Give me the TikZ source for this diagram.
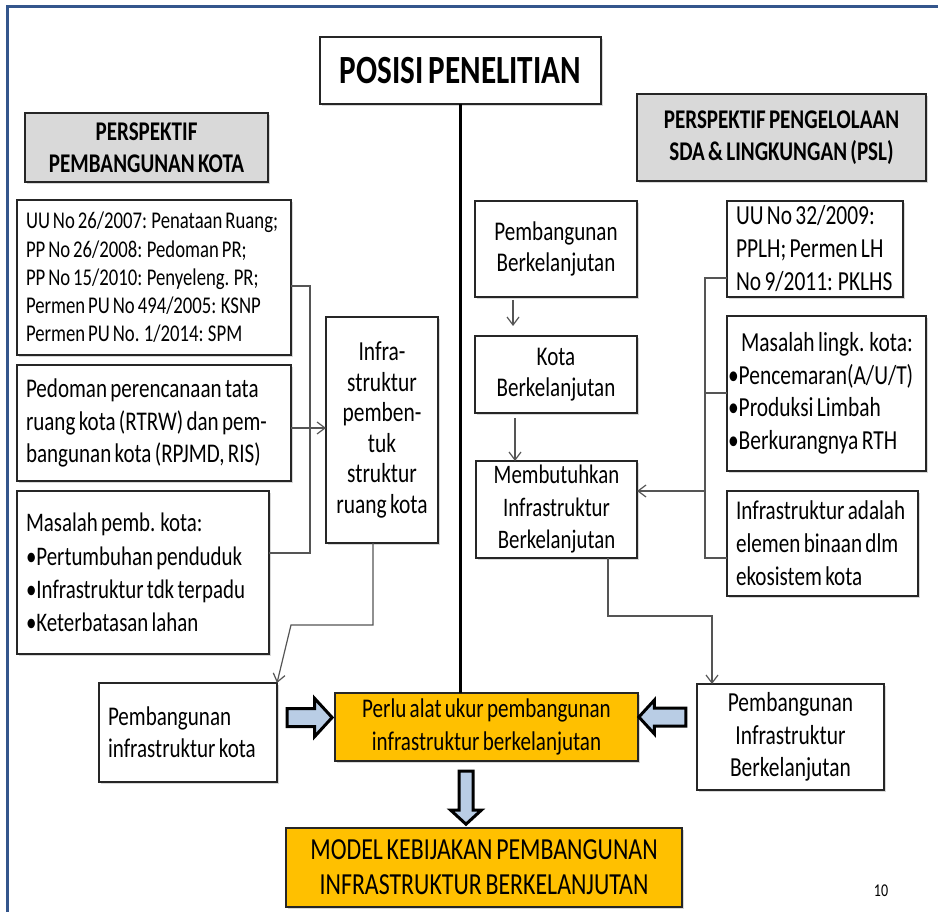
\documentclass[tikz,border=0pt]{standalone}
\usepackage{fontspec}
\setmainfont{Carlito}[FakeStretch=0.78, WordSpace=0.7]
\usetikzlibrary{shapes.arrows,arrows.meta,shadows,calc}
\definecolor{framebl}{RGB}{52,86,140}
\definecolor{boxgray}{RGB}{217,217,217}
\definecolor{orng}{RGB}{255,192,0}
\definecolor{arrbl}{RGB}{185,205,229}
\definecolor{lngray}{RGB}{85,85,85}
\newcommand\myfs[2]{\fontsize{#1}{#2}\selectfont}
\tikzset{
  box/.style={draw=black!85, line width=1.1pt, fill=white, inner sep=0pt, outer sep=0pt,
    drop shadow={shadow xshift=2pt, shadow yshift=-2pt, opacity=0.3}},
  lbox/.style={box, inner xsep=9pt, align=flush left},
  cbox/.style={box, align=center},
  hdr/.style={box, fill=boxgray, align=center, font=\bfseries\myfs{27}{32}},
  obox/.style={box, fill=orng, align=center},
  conn/.style={draw=lngray, line width=1.2pt},
  tip/.style={-{Straight Barb[length=8pt,width=12pt]}},
  barrow/.style={single arrow, draw=black, line width=3pt, fill=arrbl, inner xsep=0pt,
    single arrow tip angle=95, single arrow head indent=0pt, outer sep=0pt}
}
\begin{document}
\begin{tikzpicture}[x=1pt,y=-1pt]
\useasboundingbox[fill=white] (0,0) rectangle (938,912);
\draw[framebl, line width=3pt] (7,912) -- (7,7) -- (938,7);

% title and headers
\node[cbox, minimum width=281pt, minimum height=67pt, font=\bfseries\myfs{40}{48}] (posisi) at (460.5,70.5) {POSISI PENELITIAN};
\node[hdr, minimum width=243pt, minimum height=69pt] (hl) at (146.5,147.5) {PERSPEKTIF\\PEMBANGUNAN KOTA};
\node[hdr, minimum width=289pt, minimum height=87pt] (hr) at (781.5,137.5) {PERSPEKTIF PENGELOLAAN\\SDA \& LINGKUNGAN (PSL)};

% left column
\node[lbox, text width=256pt, minimum height=155pt, font=\myfs{24}{28.2}] (l1) at (154,277.5)
  {UU No 26/2007: Penataan Ruang;\\PP No 26/2008: Pedoman PR;\\PP No 15/2010: Penyeleng. PR;\\Permen PU No 494/2005: KSNP\\Permen PU No. 1/2014: SPM};
\node[lbox, text width=256pt, minimum height=116pt, font=\myfs{27}{32.5}] (l2) at (154,423)
  {Pedoman perencanaan tata\\ruang kota (RTRW) dan pem-\\bangunan kota (RPJMD, RIS)};
\node[lbox, text width=234pt, minimum height=163pt, font=\myfs{26.8}{33.3}] (l3) at (143,572.5)
  {Masalah pemb. kota:\\•Pertumbuhan penduduk\\•Infrastruktur tdk terpadu\\•Keterbatasan lahan};
\node[cbox, minimum width=112pt, minimum height=226pt, font=\myfs{27.5}{30.5}] (l4) at (382,430)
  {Infra-\\struktur\\pemben-\\tuk\\struktur\\ruang kota};
\node[lbox, text width=160pt, minimum height=99pt, font=\myfs{27}{32}] (l5) at (188,732.5)
  {Pembangunan\\infrastruktur kota};

% center
\node[obox, minimum width=303pt, minimum height=68pt, font=\myfs{27}{33}] (perlu) at (486.5,727)
  {Perlu alat ukur pembangunan\\infrastruktur berkelanjutan};
\node[obox, minimum width=396pt, minimum height=79pt, font=\myfs{30.6}{35}] (model) at (484,867.5)
  {MODEL KEBIJAKAN PEMBANGUNAN\\INFRASTRUKTUR BERKELANJUTAN};

% right middle column
\node[cbox, minimum width=162pt, minimum height=96pt, font=\myfs{27}{31}] (r1) at (556,249)
  {Pembangunan\\Berkelanjutan};
\node[cbox, minimum width=162pt, minimum height=77pt, font=\myfs{27}{31}] (r2) at (556,374.5)
  {Kota\\Berkelanjutan};
\node[cbox, minimum width=161pt, minimum height=97pt, font=\myfs{26.7}{32.5}] (r3) at (556.5,509.5)
  {Membutuhkan\\Infrastruktur\\Berkelanjutan};

% right column
\node[lbox, text width=158pt, minimum height=96pt, font=\myfs{27.5}{33}] (r4) at (815,249)
  {UU No 32/2009:\\PPLH; Permen LH\\No 9/2011: PKLHS};
\node[lbox, inner xsep=1pt, text width=197pt, minimum height=155pt, font=\myfs{27.5}{32.5}] (r5) at (826.5,393.5)
  {\hspace*{13pt}Masalah lingk. kota:\\•Pencemaran(A/U/T)\\•Produksi Limbah\\•Berkurangnya RTH};
\node[lbox, text width=173pt, minimum height=105pt, font=\myfs{27.1}{33}] (r6) at (822.5,543.5)
  {Infrastruktur adalah\\elemen binaan dlm\\ekosistem kota};
\node[cbox, minimum width=187pt, minimum height=106pt, font=\myfs{27.5}{32.5}] (r7) at (790.5,737)
  {Pembangunan\\Infrastruktur\\Berkelanjutan};

\node[font=\myfs{18}{20}, inner sep=0pt] (pg) at (881,891) {10};

% main vertical line
\draw[black, line width=3.5pt] (posisi.south) -- (posisi.south |- perlu.north);

% left connectors
\coordinate (jL1) at (310,286);
\coordinate (jL3) at (310,553);
\coordinate (aL2) at (310,428);
\draw[conn] (l1.east |- jL1) -- (jL1) -- (jL3) -- (l3.east |- jL3);
\draw[conn, tip] (l2.east |- aL2) -- (l4.west |- aL2);
\coordinate (kL1) at (373,625);
\coordinate (kL2) at (291,625);
\draw[conn, tip] (kL1 |- l4.south) -- (kL1) -- (kL2) -- (l5.north east);

% right-middle connectors
\coordinate (xA) at (513,0);
\coordinate (xB) at (515,0);
\draw[conn, tip, shorten <=3pt, shorten >=10pt] (r1.south -| xA) -- (r2.north -| xA);
\draw[conn, tip, shorten <=5pt] (r2.south -| xB) -- (r3.north -| xB);

% right connectors
\coordinate (jR4) at (705,278);
\coordinate (jR5) at (705,393);
\coordinate (jR6) at (705,558);
\coordinate (aR3) at (705,491);
\draw[conn] (r4.west |- jR4) -- (jR4) -- (jR6) -- (r6.west |- jR6);
\draw[conn] (jR5) -- (r5.west |- jR5);
\draw[conn, tip] (aR3) -- (r3.east |- aR3);
\coordinate (kR1) at (608,616);
\coordinate (kR2) at (712,616);
\draw[conn, tip] (kR1 |- r3.south) -- (kR1) -- (kR2) -- (kR2 |- r7.north);

% block arrows
\node[barrow, minimum height=45pt, inner ysep=7.5pt, single arrow head extend=10pt] (ba1) at (305.5,717.5) {};
\node[barrow, minimum height=47pt, inner ysep=7.5pt, single arrow head extend=8pt, rotate=180] (ba2) at (666.5,717) {};
\node[barrow, minimum height=53pt, inner ysep=5.5pt, single arrow head extend=8.5pt, rotate=-90] (ba3) at (466,794.5) {};
\end{tikzpicture}
\end{document}
